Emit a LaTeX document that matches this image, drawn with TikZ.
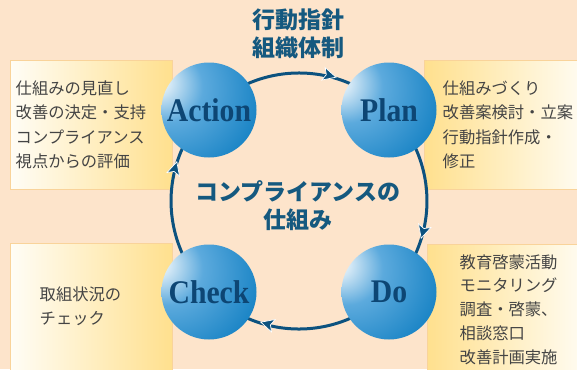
\documentclass[tikz,border=0pt]{standalone}
\usepackage{fontspec}
\setmainfont{Liberation Serif}
\newfontfamily\jp{Noto Sans CJK JP}
\definecolor{bg}{HTML}{FDE4CB}
\definecolor{yel}{HTML}{FFE08E}
\definecolor{pale}{HTML}{FFFDF6}
\definecolor{bord}{HTML}{F9D39A}
\definecolor{cyc}{HTML}{0C527F}
\definecolor{ttl}{HTML}{15597F}
\definecolor{lbl}{HTML}{0D4674}
\definecolor{txt}{HTML}{444444}
\definecolor{sphA}{HTML}{F2F8FC}
\definecolor{sphB}{HTML}{5CAADD}
\definecolor{sphC}{HTML}{1682C4}
\definecolor{sphD}{HTML}{0A74B3}
\definecolor{sphE}{HTML}{0094D6}
\pgfdeclareradialshading{sph}{\pgfpoint{-29bp}{16bp}}{color(0bp)=(sphA);color(3bp)=(sphA);color(19bp)=(sphB);color(43bp)=(sphC);color(70bp)=(sphD);color(82bp)=(sphE)}
\pgfdeclarelayer{back}
\pgfdeclarelayer{mid}
\pgfsetlayers{back,mid,main}
\tikzset{
  sphere/.style={circle,minimum size=95pt,inner sep=0pt,shading=sph,
    text=lbl,font=\fontsize{33}{33}\selectfont\bfseries},
  boxl/.style={draw=bord,line width=0.8pt,left color=pale,right color=yel},
  boxr/.style={draw=bord,line width=0.8pt,left color=yel,right color=pale},
  boxtext/.style={anchor=west,inner sep=0pt,align=left,text=txt,
    font=\jp\fontsize{16.3}{24.5}\selectfont},
  headtext/.style={inner sep=0pt,align=center,text=ttl,
    font=\jp\bfseries\fontsize{23}{28}\selectfont},
  cycarc/.style={draw=cyc,line width=3pt},
  headshape/.style={fill=cyc,draw=white,line width=0.7pt,line join=miter}
}
\newcommand{\cychead}[2]{%
  \begin{scope}[shift={(#1)},rotate=#2]
    \filldraw[headshape] (3pt,0pt) -- (-10pt,6.5pt) -- (-7pt,0pt) -- (-10pt,-6.5pt) -- cycle;
  \end{scope}}
\begin{document}
\begin{tikzpicture}[x=1pt,y=-1pt]
\useasboundingbox (0,0) rectangle (577,369);
\clip (0,0) rectangle (577,369);
\begin{pgfonlayer}{back}
\fill[bg] (0,0) rectangle (577,369);
\path[boxl] (10,60) rectangle (172,189);
\path[boxr] (424,60) rectangle (590,189);
\path[boxl] (10,243) rectangle (172,380);
\path[boxr] (427,244) rectangle (590,380);
\end{pgfonlayer}
% spheres
\node[sphere] (A) at (209,110) {\scalebox{0.9}[1]{Action}};
\node[sphere] (P) at (389,110) {\scalebox{0.9}[1]{Plan}};
\node[sphere] (D) at (389,292) {\scalebox{0.9}[1]{Do}};
\node[sphere] (C) at (209,292) {\scalebox{0.9}[1]{Check}};
\coordinate (O) at (299,200);
\coordinate (hAP) at (333.1,76.4);
\coordinate (hPD) at (422.0,235.3);
\coordinate (hDC) at (263.7,323.0);
\coordinate (hCA) at (176.0,164.7);
% cycle arcs (behind spheres)
\begin{pgfonlayer}{mid}
\path[cycarc] (A.center) arc[start angle=225.3,end angle=314.7,radius=128];
\path[cycarc] (P.center) arc[start angle=314.7,end angle=405.3,radius=128];
\path[cycarc] (D.center) arc[start angle=45.3,end angle=134.7,radius=128];
\path[cycarc] (C.center) arc[start angle=134.7,end angle=225.3,radius=128];
\cychead{hAP}{-15}
\cychead{hPD}{-106}
\cychead{hDC}{164}
\cychead{hCA}{74}
\end{pgfonlayer}
% texts
\node[headtext] (title) at (298,34) {行動指針\\組織体制};
\node[headtext] (center) at (298,206) {コンプライアンスの\\仕組み};
\node[boxtext] (lt) at (15.5,125) {仕組みの見直し\\改善の決定・支持\\コンプライアンス\\視点からの評価};
\node[boxtext] (rt) at (442.5,125) {仕組みづくり\\改善案検討・立案\\行動指針作成・\\修正};
\node[boxtext] (lb) at (39.5,306.5) {取組状況の\\チェック};
\node[boxtext,font=\jp\fontsize{16.3}{23.75}\selectfont] (rb) at (459.5,309.5) {教育啓蒙活動\\モニタリング\\調査・啓蒙、\\相談窓口\\改善計画実施};
\end{tikzpicture}
\end{document}
